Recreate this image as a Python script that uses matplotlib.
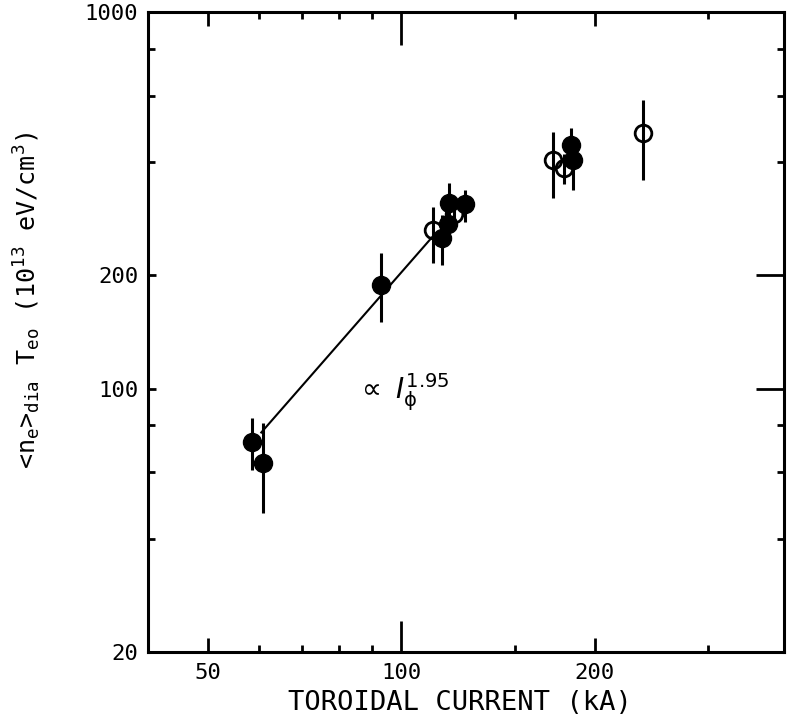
import numpy as np
import matplotlib.pyplot as plt
from matplotlib.ticker import FixedLocator, NullFormatter

plt.rcParams['font.family'] = 'DejaVu Sans Mono'
plt.rcParams['mathtext.fontset'] = 'dejavusans'
plt.rcParams['mathtext.default'] = 'regular'

# -----------------------------
# Data (kA, 10^13 eV/cm^3)
# -----------------------------

# filled circles
I_filled = [58.6, 60.8, 92.9, 115.6, 118.3, 118.6, 125.7, 183.6, 185.0]
n_filled = [72.2, 63.5, 188.5, 251, 274, 311, 309, 443, 404]
n_filled_lo = [60.8, 46.8, 150, 213, 245, 275, 277, 400, 337]
n_filled_hi = [83.6, 81.1, 229, 289, 305, 352, 337, 492, 440]

# open circles
I_open = [111.8, 120.9, 172.0, 179.0, 238.0]
n_open = [264, 291, 404, 385, 477]
n_open_lo = [216, 265, 321, 350, 358]
n_open_hi = [303.6, 320, 480, 420, 584]

# power-law fit  n ~ I^1.95
fit_exp = 1.95
fit_coef = 10 ** -1.5905
fit_range = [60.5, 111.8]

x_major = [50, 100, 200]
x_minor = [60, 70, 80, 90, 150, 300]
y_major = [20, 100, 200, 1000]
y_minor = [40, 60, 80, 400, 600, 800]

# -----------------------------
# Plot
# -----------------------------

fig = plt.figure(figsize=(7.87, 7.22), dpi=100)
ax = fig.add_axes([0.188, 0.097, 0.808, 0.886])

ax.set_xscale('log')
ax.set_yscale('log')
ax.set_xlim(40.3, 394)
ax.set_ylim(20, 1000)

n_f = np.array(n_filled)
ax.errorbar(I_filled, n_filled,
            yerr=[n_f - np.array(n_filled_lo), np.array(n_filled_hi) - n_f],
            fmt='o', color='black', ms=13, elinewidth=2.2, capsize=0)

n_o = np.array(n_open)
ax.errorbar(I_open, n_open,
            yerr=[n_o - np.array(n_open_lo), np.array(n_open_hi) - n_o],
            fmt='o', color='black', mfc='none', mec='black', ms=12, mew=2,
            elinewidth=2.2, capsize=0)

I_fit = np.array(fit_range)
ax.plot(I_fit, fit_coef * I_fit ** fit_exp, color='black', lw=1.5)

ax.text(85, 98, r'$\propto\ \mathit{I}_{\phi}^{1.95}$', fontsize=20,
        ha='left', va='center', family='DejaVu Sans')

# axes, ticks
for sp in ax.spines.values():
    sp.set_linewidth(2.2)

ax.xaxis.set_major_locator(FixedLocator(x_major))
ax.xaxis.set_minor_locator(FixedLocator(x_minor))
ax.set_xticklabels([str(v) for v in x_major])
ax.xaxis.set_minor_formatter(NullFormatter())

ax.yaxis.set_major_locator(FixedLocator(y_major))
ax.yaxis.set_minor_locator(FixedLocator(y_minor))
ax.set_yticklabels([str(v) for v in y_major])
ax.yaxis.set_minor_formatter(NullFormatter())

ax.tick_params(which='both', direction='in', top=True, right=True,
               labelsize=16, width=2)
ax.tick_params(which='major', length=10)
ax.tick_params(which='minor', length=5)
ax.tick_params(axis='x', pad=8)
ax.tick_params(axis='y', pad=7)

# longer tick at 100 kA
t100 = ax.xaxis.get_major_ticks()[1]
t100.tick1line.set_markersize(22)
t100.tick2line.set_markersize(24)
for t in ax.yaxis.get_major_ticks():
    t.tick1line.set_markersize(6)
for t in ax.yaxis.get_major_ticks()[1:3]:
    t.tick2line.set_markersize(20)

ax.set_xlabel('TOROIDAL CURRENT (kA)', fontsize=19.5)
ax.xaxis.set_label_coords(0.49, -0.06)

ax.set_ylabel(r'<n$_e$>$_{dia}$ T$_{eo}$ (10$^{13}$ eV/cm$^3$)', fontsize=18)
ax.yaxis.set_label_coords(-0.165, 0.55)

fig.savefig('out.png', dpi=100)
